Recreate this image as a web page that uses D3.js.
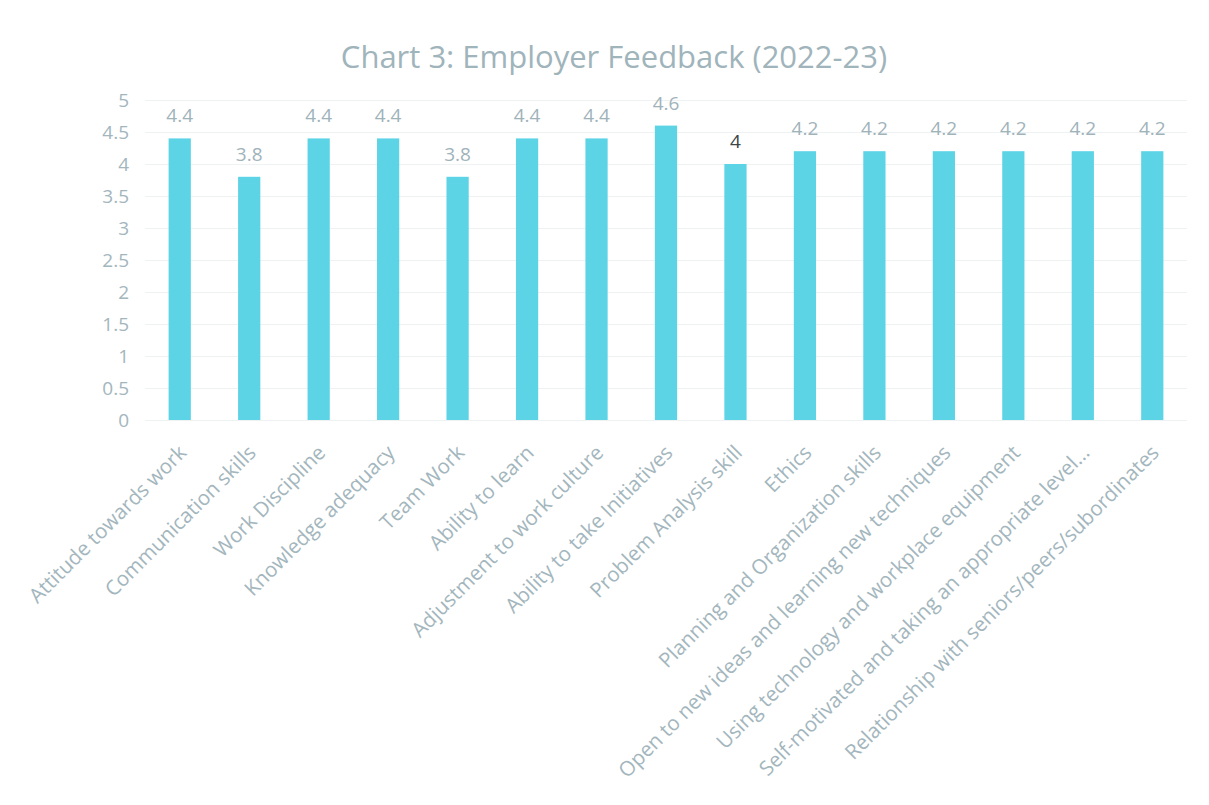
<!DOCTYPE html>
<html>
<head>
<meta charset="utf-8">
<script src="https://cdn.jsdelivr.net/npm/d3@7"></script>
<style>
  body { margin: 0; background: #ffffff; }
  svg { font-family: "Open Sans", "Noto Sans", sans-serif; }
</style>
</head>
<body>
<div id="chart"></div>
<script>
// Daten
var categories = [
  "Attitude towards work",
  "Communication skills",
  "Work Discipline",
  "Knowledge adequacy",
  "Team Work",
  "Ability to learn",
  "Adjustment to work culture",
  "Ability to take Initiatives",
  "Problem Analysis skill",
  "Ethics",
  "Planning and Organization skills",
  "Open to new ideas and learning new techniques",
  "Using technology and workplace equipment",
  "Self-motivated and taking an appropriate level...",
  "Relationship with seniors/peers/subordinates"
];
var scores = [4.4, 3.8, 4.4, 4.4, 3.8, 4.4, 4.4, 4.6, 4.0, 4.2, 4.2, 4.2, 4.2, 4.2, 4.2];
var scoreLabels = ["4.4", "3.8", "4.4", "4.4", "3.8", "4.4", "4.4", "4.6", "4", "4.2", "4.2", "4.2", "4.2", "4.2", "4.2"];
var yTicks = [0, 0.5, 1, 1.5, 2, 2.5, 3, 3.5, 4, 4.5, 5];

var width = 1209, height = 805;
var margin = {top: 100, left: 145, right: 22, bottom: 385};
var innerwidth = width - margin.left - margin.right,
    innerheight = height - margin.top - margin.bottom;

var grey = "#a3b6bd";

var svg = d3.select("#chart")
    .append("svg")
    .attr("width", width)
    .attr("height", height);

// Titel
svg.append("text")
    .attr("x", 614)
    .attr("y", 68)
    .attr("text-anchor", "middle")
    .attr("font-size", "31px")
    .attr("fill", "#9fb4bb")
    .text("Chart 3: Employer Feedback (2022-23)");

var g = svg.append("g")
    .attr("transform", "translate(" + margin.left + "," + margin.top + ")");

var x = d3.scaleBand()
    .domain(categories)
    .range([0, innerwidth])
    .paddingInner(0.68)
    .paddingOuter(0.34);

var y = d3.scaleLinear()
    .domain([0, 5])
    .range([innerheight, 0]);

// Gitterlinien
g.append("g")
    .attr("class", "grid")
    .call(d3.axisLeft(y).tickValues(yTicks).tickSize(-innerwidth).tickFormat(""))
    .call(function(s) { s.select(".domain").remove(); })
    .selectAll("line")
    .attr("stroke", "#eef2f3")
    .attr("stroke-width", 1);

// y-Achse
g.append("g")
    .call(d3.axisLeft(y).tickValues(yTicks).tickSize(0).tickPadding(16).tickFormat(function(d) { return d3.format("")(d); }))
    .call(function(s) { s.select(".domain").remove(); })
    .selectAll("text")
    .attr("font-size", "19px")
    .attr("fill", grey)
    .attr("font-family", "Open Sans, sans-serif");

// Balken
g.selectAll("rect.bar")
    .data(categories)
    .enter()
    .append("rect")
    .attr("class", "bar")
    .attr("x", function(d) { return x(d); })
    .attr("width", x.bandwidth())
    .attr("y", function(d, i) { return y(scores[i]); })
    .attr("height", function(d, i) { return innerheight - y(scores[i]); })
    .attr("fill", "#5dd4e6");

// Werte ueber den Balken
g.selectAll("text.val")
    .data(categories)
    .enter()
    .append("text")
    .attr("class", "val")
    .attr("x", function(d) { return x(d) + x.bandwidth() / 2; })
    .attr("y", function(d, i) { return y(scores[i]) - 16; })
    .attr("text-anchor", "middle")
    .attr("font-size", "19px")
    .attr("fill", function(d, i) { return scoreLabels[i] === "4" ? "#3c4548" : "#9fb3ba"; })
    .text(function(d, i) { return scoreLabels[i]; });

// x-Achse
var xAxis = g.append("g")
    .attr("transform", "translate(0," + innerheight + ")")
    .call(d3.axisBottom(x).tickSize(0).tickPadding(0));
xAxis.select(".domain").remove();
xAxis.selectAll("text")
    .attr("font-size", "20.5px")
    .attr("fill", grey)
    .attr("font-family", "Open Sans, sans-serif")
    .attr("text-anchor", "end")
    .attr("dy", 0)
    .attr("transform", "translate(8,34) rotate(-45)");
</script>
</body>
</html>
